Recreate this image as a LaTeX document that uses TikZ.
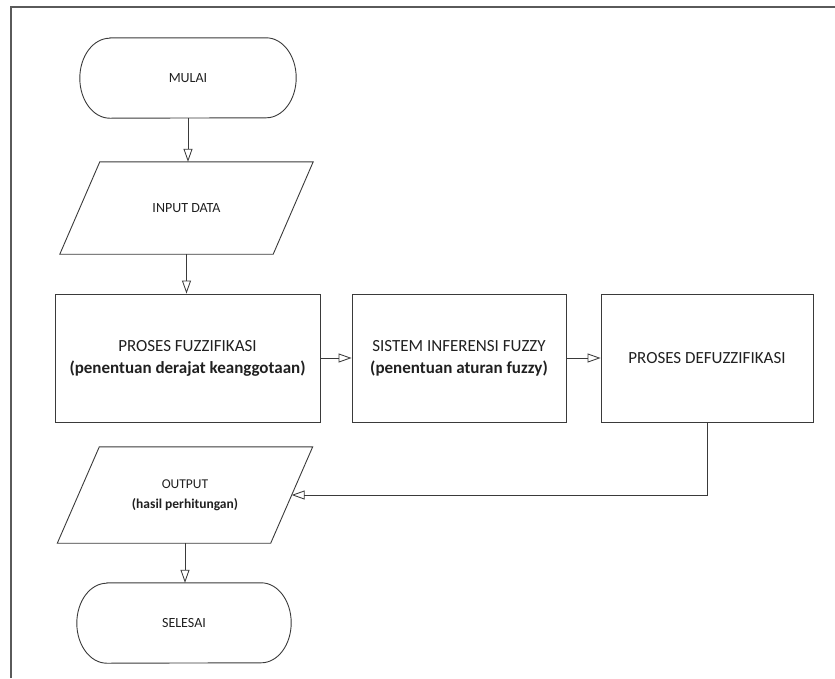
\documentclass[tikz,border=0pt]{standalone}
\usepackage{fontspec}
\setmainfont{Carlito}
\usetikzlibrary{arrows.meta,calc}
\definecolor{ln}{HTML}{3A3A3A}
\definecolor{tx}{HTML}{202020}
\definecolor{fr}{HTML}{5A5A5A}
\begin{document}
\begin{tikzpicture}[x=1pt,y=-1pt,
  shp/.style={draw=ln, line width=0.9pt},
  box/.style={draw=ln, line width=0.9pt, minimum height=128pt, inner sep=0pt, align=center, text=tx, font=\fontsize{17}{22}\selectfont},
  ghost/.style={inner sep=0pt, align=center, text=tx},
  arr/.style={draw=ln, line width=0.85pt, -{Triangle[open, length=13pt, width=9pt]}},
  frameline/.style={draw=fr, line width=2pt}
]
\useasboundingbox (0,0) rectangle (835,678);
\draw[frameline] (11,678) -- (11,7) -- (835,7);

% MULAI
\node[ghost, minimum width=216pt, minimum height=80pt, font=\fontsize{14}{17}\selectfont] (mulai) at (188,78) {MULAI};
\draw[shp] ([xshift=30pt]mulai.north west) -- ([xshift=-30pt]mulai.north east)
  arc[start angle=90, end angle=-90, x radius=30pt, y radius=40pt]
  -- ([xshift=30pt]mulai.south west)
  arc[start angle=270, end angle=90, x radius=30pt, y radius=40pt] -- cycle;

% INPUT DATA
\node[ghost, minimum width=213pt, minimum height=92pt, font=\fontsize{14}{17}\selectfont] (input) at (186.5,208) {INPUT DATA};
\draw[shp] ([xshift=-20pt]input.south west) -- ([xshift=-20pt]input.south east)
  -- ([xshift=20pt]input.north east) -- ([xshift=20pt]input.north west) -- cycle;

% Process boxes
\node[box, minimum width=265pt] (fuzz) at (187.5,358) {PROSES FUZZIFIKASI\\\textbf{(penentuan derajat keanggotaan)}};
\node[box, minimum width=214pt] (sistem) at (459,358) {SISTEM INFERENSI FUZZY\\\textbf{(penentuan aturan fuzzy)}};
\node[box, minimum width=212pt] (defuzz) at (707,358) {PROSES DEFUZZIFIKASI};

% OUTPUT
\node[ghost, minimum width=213pt, minimum height=96pt, font=\fontsize{13.5}{20}\selectfont] (output) at (185,495) {OUTPUT\\\textbf{(hasil perhitungan)}};
\draw[shp] ([xshift=-21pt]output.south west) -- ([xshift=-21pt]output.south east)
  -- ([xshift=21pt]output.north east) -- ([xshift=21pt]output.north west) -- cycle;

% SELESAI
\node[ghost, minimum width=214pt, minimum height=80pt, font=\fontsize{14}{17}\selectfont] (selesai) at (184,623) {SELESAI};
\draw[shp] ([xshift=30pt]selesai.north west) -- ([xshift=-30pt]selesai.north east)
  arc[start angle=90, end angle=-90, x radius=30pt, y radius=40pt]
  -- ([xshift=30pt]selesai.south west)
  arc[start angle=270, end angle=90, x radius=30pt, y radius=40pt] -- cycle;

% Connectors
\draw[arr] (mulai.south) -- (mulai.south |- input.north);
\draw[arr] (input.south) -- (input.south |- fuzz.north);
\draw[arr] (fuzz.east) -- (sistem.west);
\draw[arr] (sistem.east) -- (defuzz.west);
\draw[arr] (defuzz.south) |- (output.east);
\draw[arr] (output.south) -- (output.south |- selesai.north);
\end{tikzpicture}
\end{document}
